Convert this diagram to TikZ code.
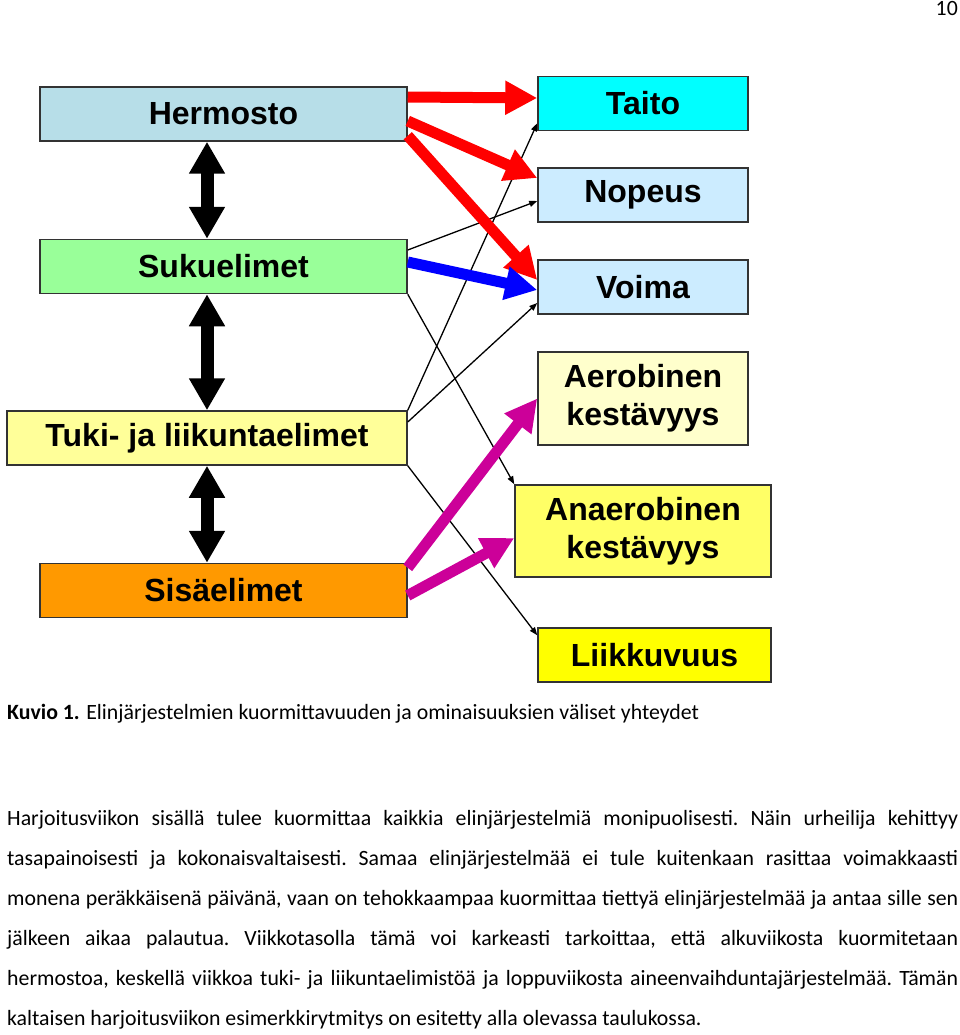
\documentclass[tikz,border=0pt]{standalone}
\usepackage{fontspec}
\setmainfont{Carlito}
\newfontfamily\boxfont{Liberation Sans}
\usetikzlibrary{arrows.meta}

\definecolor{hermcol}{RGB}{183,222,232}
\definecolor{sukcol}{RGB}{153,255,153}
\definecolor{tukicol}{RGB}{255,255,153}
\definecolor{siscol}{RGB}{255,153,0}
\definecolor{taitocol}{RGB}{0,255,255}
\definecolor{speedcol}{RGB}{204,236,255}
\definecolor{aerocol}{RGB}{255,255,204}
\definecolor{anaerocol}{RGB}{255,255,102}
\definecolor{liikcol}{RGB}{255,255,0}
\definecolor{magcol}{RGB}{204,0,153}

\begin{document}
\begin{tikzpicture}[x=1pt,y=-1pt]
        % Define node styles
        \tikzstyle{organ} = [draw=black!80, line width=1.5pt, rectangle, minimum width=367pt, minimum height=54pt, inner sep=0pt, align=center, font=\boxfont\bfseries\fontsize{32}{38}\selectfont]
        \tikzstyle{skill} = [organ, minimum width=210pt]
        \tikzstyle{fat} = [line width=11pt, -{Triangle[length=32pt, width=32pt]}]
        \tikzstyle{twoway} = [line width=13pt, {Triangle[length=32pt, width=34pt]}-{Triangle[length=32pt, width=34pt]}]
        \tikzstyle{link} = [line width=1.3pt, -{Triangle[length=8pt, width=6pt]}]
        \tikzstyle{prose} = [inner sep=0pt, font=\fontsize{21.8}{40}\selectfont]

        \useasboundingbox (0,0) rectangle (960,1035);

        % Draw the nodes
        \node[organ, fill=hermcol] (herm) at (223.5,114) {Hermosto};
        \node[organ, fill=sukcol] (suk) at (223.5,266.5) {Sukuelimet};
        \node[organ, fill=tukicol, minimum width=400pt] (tuki) at (207,438) {Tuki- ja liikuntaelimet};
        \node[organ, fill=siscol] (sis) at (223.5,590.5) {Sisäelimet};

        \node[skill, fill=taitocol] (taito) at (643,103.5) {Taito};
        \node[skill, fill=speedcol] (nopeus) at (643,195) {Nopeus};
        \node[skill, fill=speedcol] (voima) at (643,287) {Voima};
        \node[skill, fill=aerocol, minimum height=93pt] (aero) at (643,398.5) {Aerobinen\\kestävyys};
        \node[skill, fill=anaerocol, minimum width=256pt, minimum height=92pt] (anaero) at (643,531) {Anaerobinen\\kestävyys};
        \node[skill, fill=liikcol, minimum width=233pt] (liik) at (654.5,655) {Liikkuvuus};

        \draw[twoway] (tuki.north |- herm.south) -- (tuki.north |- suk.north);
        \draw[twoway] (tuki.north |- suk.south) -- (tuki.north);
        \draw[twoway] (tuki.south) -- (tuki.south |- sis.north);

        \draw[link] ([yshift=16.5pt]suk.east) -- ([yshift=-6pt]nopeus.west);
        \draw[link] (suk.south east) -- (anaero.north west);
        \draw[link] (tuki.north east) -- ([yshift=8pt]taito.south west);
        \draw[link] ([yshift=16pt]tuki.east) -- ([yshift=-16pt]voima.west);
        \draw[link] (tuki.south east) -- ([yshift=-8pt]liik.north west);

        \draw[fat, red] ([yshift=17pt]herm.east) -- ([yshift=5.5pt]taito.west);
        \draw[fat, red] ([yshift=-7pt]herm.east) -- ([yshift=17pt]nopeus.west);
        \draw[fat, red] ([yshift=6pt]herm.south east) -- ([yshift=7pt]voima.west);
        \draw[fat, blue] ([yshift=4.5pt]suk.east) -- ([yshift=-3pt]voima.west);
        \draw[fat, magcol] ([yshift=-5pt]sis.north east) -- (aero.west);
        \draw[fat, magcol] ([yshift=-5pt]sis.east) -- ([yshift=-7pt]anaero.west);

        \node[prose, anchor=base east] (pagenum) at (958,16) {10};
        \node[prose, anchor=base west] (caption) at (7,719)
            {\textbf{Kuvio 1.} Elinjärjestelmien kuormittavuuden ja ominaisuuksien väliset yhteydet};
        \node[prose, anchor=north west, text width=951pt, align=justify] (body) at (7,810)
            {\frenchspacing\hyphenpenalty=10000 \tolerance=9999 \emergencystretch=20pt
            Harjoitusviikon sisällä tulee kuormittaa kaikkia elinjärjestelmiä monipuolisesti. Näin urheilija kehittyy\linebreak
            tasapainoisesti ja kokonaisvaltaisesti. Samaa elinjärjestelmää ei tule kuitenkaan rasittaa voimakkaasti\linebreak
            monena peräkkäisenä päivänä, vaan on tehokkaampaa kuormittaa tiettyä elinjärjestelmää ja antaa sille sen\linebreak
            jälkeen aikaa palautua. Viikkotasolla tämä voi karkeasti tarkoittaa, että alkuviikosta kuormitetaan\linebreak
            hermostoa, keskellä viikkoa tuki- ja liikuntaelimistöä ja loppuviikosta aineenvaihduntajärjestelmää. Tämän\linebreak
            kaltaisen harjoitusviikon esimerkkirytmitys on esitetty alla olevassa taulukossa.};
\end{tikzpicture}
\end{document}
